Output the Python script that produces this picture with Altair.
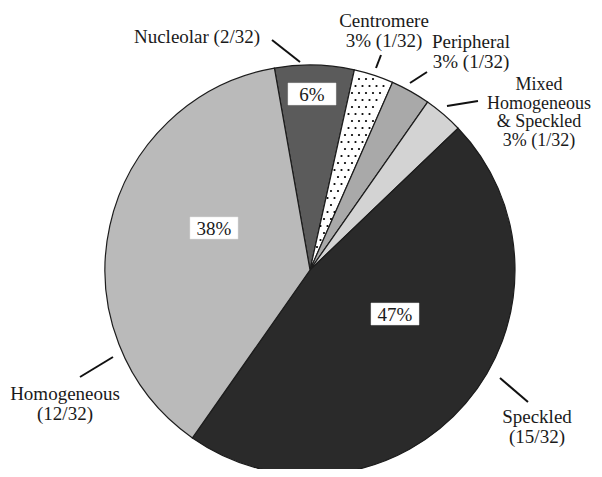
import math
import altair as alt
import pandas as pd

# ---- data ----
categories = ["Nucleolar", "Centromere", "Peripheral",
              "Mixed Homogeneous & Speckled", "Speckled", "Homogeneous"]
counts = [2, 1, 1, 1, 15, 12]
slice_colors = ["#5b5b5b", "#ffffff", "#a9a9a9", "#d3d3d3", "#2a2a2a", "#bababa"]

pct_texts = ["6%", "38%", "47%"]
outer_texts = ["Nucleolar (2/32)", "Centromere\n3% (1/32)", "Peripheral\n3% (1/32)",
               "Speckled\n(15/32)", "Homogeneous\n(12/32)"]
mixed_text = ["Mixed\nHomogeneous\n& Speckled\n3% (1/32)"]

# ---- layout (pixels relative to pie centre, y downward) ----
W, H = 586, 461
CX, CY = 302, 262
R = 205
START_DEG = -10.0
pct_xy = [(2, -176), (-96, -42), (85, 44)]
box_w, box_h = 48, 22
outer_xy = [(-113, -227), (74, -243), (161, -222), (227, 153), (-245, 130)]
mixed_xy = [(229, -180)]
leaders = [((-38, -230), (-10, -208)), ((71, -215), (66, -202)),
           ((117, -198), (100, -187)), ((168, -169), (137, -164)),
           ((190, 108), (218, 132)), ((-230, 107), (-197, 87))]

xs = alt.Scale(domain=[-CX, W - CX], range=[0, W])
ys = alt.Scale(domain=[-CY, H - CY], range=[0, H])

pie_df = pd.DataFrame({"category": categories, "count": counts,
                       "idx": list(range(len(categories)))})

start = math.radians(START_DEG) + 2 * math.pi
pie = alt.Chart(pie_df).mark_arc(radius=R, stroke="#1c1c1c", strokeWidth=1.2).encode(
    theta=alt.Theta("count:Q", stack=True,
                    scale=alt.Scale(range=[start, start + 2 * math.pi])),
    color=alt.Color("category:N", scale=alt.Scale(domain=categories, range=slice_colors),
                    legend=None),
    order=alt.Order("idx:Q"),
    x=alt.value(CX), y=alt.value(CY),
)

# dotted texture for the Centromere wedge (angles from the data)
total = sum(counts)
a1 = START_DEG + 360.0 * sum(counts[:1]) / total
a2 = START_DEG + 360.0 * sum(counts[:2]) / total
dots = []
step = 7.0
row = 0
yy = -R
while yy < 0:
    off = 0 if row % 2 == 0 else step / 2
    xx = off
    while xx < 120:
        ang = math.degrees(math.atan2(xx, -yy))
        rr = math.hypot(xx, yy)
        if a1 + 0.8 < ang < a2 - 0.8 and 10 < rr < R - 3:
            dots.append({"x": xx, "y": yy})
        xx += step
    yy += step
    row += 1
dots_df = pd.DataFrame(dots)
dot_layer = alt.Chart(dots_df).mark_circle(size=5, color="#000000", opacity=1).encode(
    x=alt.X("x:Q", scale=xs, axis=None), y=alt.Y("y:Q", scale=ys, axis=None))

box_df = pd.DataFrame({
    "t": pct_texts,
    "x": [p[0] for p in pct_xy], "y": [p[1] for p in pct_xy],
    "x0": [p[0] - box_w / 2 for p in pct_xy], "x1": [p[0] + box_w / 2 for p in pct_xy],
    "y0": [p[1] - box_h / 2 for p in pct_xy], "y1": [p[1] + box_h / 2 for p in pct_xy],
})
boxes = alt.Chart(box_df).mark_rect(fill="white", stroke="#e0e0e0", strokeWidth=0.5).encode(
    x=alt.X("x0:Q", scale=xs, axis=None), x2="x1:Q",
    y=alt.Y("y0:Q", scale=ys, axis=None), y2="y1:Q")
pct = alt.Chart(box_df).mark_text(font="Liberation Serif", fontSize=19, color="#1a1a1a",
                                  baseline="middle", align="center", dy=1).encode(
    x=alt.X("x:Q", scale=xs, axis=None), y=alt.Y("y:Q", scale=ys, axis=None), text="t:N")

lab_df = pd.DataFrame({"t": outer_texts, "x": [p[0] for p in outer_xy],
                       "y": [p[1] for p in outer_xy]})
labels = alt.Chart(lab_df).mark_text(font="Liberation Serif", fontSize=19, color="#1a1a1a",
                                     align="center", baseline="alphabetic",
                                     lineBreak="\n", lineHeight=19.5).encode(
    x=alt.X("x:Q", scale=xs, axis=None), y=alt.Y("y:Q", scale=ys, axis=None), text="t:N")

mix_df = pd.DataFrame({"t": mixed_text, "x": [p[0] for p in mixed_xy],
                       "y": [p[1] for p in mixed_xy]})
mixed = alt.Chart(mix_df).mark_text(font="Liberation Serif", fontSize=18, color="#1a1a1a",
                                    align="center", baseline="alphabetic",
                                    lineBreak="\n", lineHeight=18.5).encode(
    x=alt.X("x:Q", scale=xs, axis=None), y=alt.Y("y:Q", scale=ys, axis=None), text="t:N")

lead_df = pd.DataFrame({"x": [l[0][0] for l in leaders], "y": [l[0][1] for l in leaders],
                        "x2": [l[1][0] for l in leaders], "y2": [l[1][1] for l in leaders]})
lead = alt.Chart(lead_df).mark_rule(color="#111111", strokeWidth=2).encode(
    x=alt.X("x:Q", scale=xs, axis=None), y=alt.Y("y:Q", scale=ys, axis=None),
    x2="x2:Q", y2="y2:Q")

chart = alt.layer(pie, dot_layer, lead, boxes, pct, labels, mixed).properties(
    width=W, height=H, autosize=alt.AutoSizeParams(type="none"), padding=0,
    background="white"
).configure_view(stroke=None)

chart.save("out.html", embed_options={"renderer": "svg", "actions": False})
